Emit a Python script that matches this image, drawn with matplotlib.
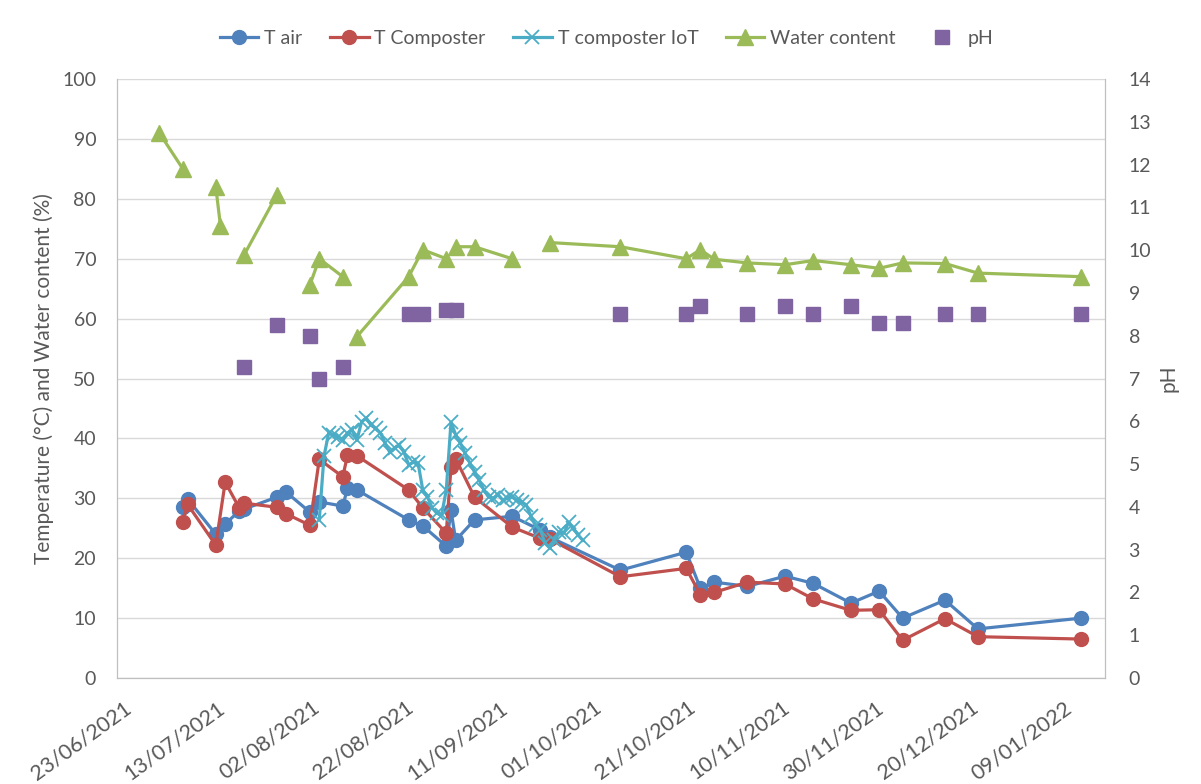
import numpy as np
import pandas as pd
import matplotlib
matplotlib.use("Agg")
import matplotlib.pyplot as plt
import matplotlib.dates as mdates
import matplotlib.transforms as mtransforms

plt.rcParams['font.family'] = ['Lato', 'DejaVu Sans']

# measurement days (T air / T composter)
temp_dates = ["2021-07-07", "2021-07-08", "2021-07-14", "2021-07-16", "2021-07-19", "2021-07-20",
              "2021-07-27", "2021-07-29", "2021-08-03", "2021-08-05", "2021-08-10", "2021-08-11",
              "2021-08-13", "2021-08-24", "2021-08-27", "2021-09-01", "2021-09-02", "2021-09-03",
              "2021-09-07", "2021-09-15", "2021-09-21", "2021-09-23", "2021-10-08", "2021-10-22",
              "2021-10-25", "2021-10-28", "2021-11-04", "2021-11-12", "2021-11-18", "2021-11-26",
              "2021-12-02", "2021-12-07", "2021-12-16", "2021-12-23", "2022-01-14"]
t_air = [28.5, 29.9, 24.0, 25.7, 27.9, 28.2, 30.2, 31.0, 27.7, 29.4, 28.7, 31.7,
         31.4, 26.4, 25.4, 22.0, 28.0, 23.0, 26.4, 27.0, 24.7, 23.5, 18.0, 21.0,
         15.0, 16.0, 15.3, 17.0, 15.8, 12.5, 14.5, 10.0, 13.0, 8.2, 10.0]
t_comp = [26.0, 29.0, 22.2, 32.7, 28.4, 29.2, 28.5, 27.4, 25.5, 36.5, 33.6, 37.2,
          37.1, 31.4, 28.4, 24.2, 35.2, 36.6, 30.2, 25.2, 23.3, 23.2, 16.9, 18.3,
          13.9, 14.3, 16.0, 15.7, 13.2, 11.3, 11.4, 6.3, 9.9, 6.9, 6.5]

# IoT probe, daily readings from 05/08/2021
iot_start = "2021-08-05"
t_iot = [26.4, 37.0, 40.9, 40.6, 40.2, 39.7, 40.9, 41.4, 39.7, 42.8, 43.4, 42.2,
         41.7, 40.9, 39.2, 37.7, 38.4, 38.9, 37.7, 35.6, 36.0, 35.9, 31.4, 30.2,
         28.4, 27.5, 27.2, 31.4, 42.7, 40.6, 39.2, 37.5, 35.9, 34.4, 33.0, 31.4,
         30.2, 30.0, 30.6, 29.7, 30.0, 30.2, 29.7, 29.4, 28.9, 27.0, 25.5, 24.7,
         22.5, 21.7, 23.0, 24.4, 24.2, 26.0, 25.0, 23.9, 23.0]

water_dates = ["2021-07-02", "2021-07-07", "2021-07-14", "2021-07-15", "2021-07-20", "2021-07-27",
               "2021-08-03", "2021-08-05", "2021-08-10", "2021-08-13", "2021-08-24", "2021-08-27",
               "2021-09-01", "2021-09-03", "2021-09-07", "2021-09-15", "2021-09-23", "2021-10-08",
               "2021-10-22", "2021-10-25", "2021-10-28", "2021-11-04", "2021-11-12", "2021-11-18",
               "2021-11-26", "2021-12-02", "2021-12-07", "2021-12-16", "2021-12-23", "2022-01-14"]
water = [91.0, 85.0, 82.0, 75.5, 70.6, 80.7, 65.6, 70.0, 67.0, 57.0, 67.0, 71.5,
         70.0, 72.0, 72.0, 70.0, 72.7, 72.0, 70.0, 71.5, 69.9, 69.3, 69.0, 69.7,
         69.0, 68.4, 69.3, 69.2, 67.6, 67.0]

ph_dates = ["2021-07-20", "2021-07-27", "2021-08-03", "2021-08-05", "2021-08-10", "2021-08-24",
            "2021-08-27", "2021-09-01", "2021-09-03", "2021-10-08", "2021-10-22", "2021-10-25",
            "2021-11-04", "2021-11-12", "2021-11-18", "2021-11-26", "2021-12-02", "2021-12-07",
            "2021-12-16", "2021-12-23", "2022-01-14"]
ph = [7.27, 8.25, 8.0, 7.0, 7.27, 8.5, 8.5, 8.6, 8.6, 8.5, 8.5, 8.7,
      8.5, 8.7, 8.5, 8.7, 8.3, 8.3, 8.5, 8.5, 8.5]

c_air = "#4F81BD"
c_comp = "#C0504D"
c_iot = "#4BACC6"
c_water = "#9BBB59"
c_ph = "#8064A2"
txt = "#595959"

td = pd.to_datetime(temp_dates)
iot_d = pd.date_range(iot_start, periods=len(t_iot), freq="D")
# water content shares the sheet rows with temperatures -> blanks break the line
ws = pd.Series(water, index=pd.to_datetime(water_dates))
all_days = ws.index.union(td)
ws = ws.reindex(all_days)

fig = plt.figure(figsize=(12.01, 7.84), dpi=100)
ax = fig.add_axes([0.0974, 0.1352, 0.8226, 0.764])
ax2 = ax.twinx()

l1, = ax.plot(td, t_air, color=c_air, lw=2.3, marker='o', ms=10, label="T air", zorder=3)
l2, = ax.plot(td, t_comp, color=c_comp, lw=2.3, marker='o', ms=10, label="T Composter", zorder=4)
l3, = ax.plot(iot_d, t_iot, color=c_iot, lw=2.3, marker='x', ms=10, mew=1.3,
              label="T composter IoT", zorder=5)
l4, = ax.plot(ws.index, ws.values, color=c_water, lw=2.3, marker='^', ms=11,
              label="Water content", zorder=3)
l5, = ax2.plot(pd.to_datetime(ph_dates), ph, ls='none', marker='s', ms=10,
               color=c_ph, label="pH")

ax.set_ylim(0, 100)
ax.set_yticks(np.arange(0, 101, 10))
ax2.set_ylim(0, 14)
ax2.set_yticks(np.arange(0, 15, 1))

x0 = pd.Timestamp("2021-06-23")
ax.set_xlim(x0, x0 + pd.Timedelta(days=210))
ax.set_xticks(pd.date_range(x0, periods=11, freq="20D"))
ax.xaxis.set_major_formatter(mdates.DateFormatter("%d/%m/%Y"))

ax.grid(axis='y', color='#D9D9D9', lw=1)
ax.set_axisbelow(True)
for a in (ax, ax2):
    a.tick_params(length=0, labelsize=14, colors=txt)
    a.spines['top'].set_visible(False)
    for s in ('left', 'right', 'bottom'):
        a.spines[s].set_color('#BFBFBF')
ax.tick_params(axis='x', pad=14, labelsize=15.5)
ax.tick_params(axis='y', pad=15)
ax2.tick_params(axis='y', pad=17)
shift = mtransforms.ScaledTranslation(6 / 100, 0, fig.dpi_scale_trans)
for lab in ax.get_xticklabels():
    lab.set_rotation(36)
    lab.set_ha('right')
    lab.set_va('top')
    lab.set_rotation_mode('anchor')
    lab.set_transform(lab.get_transform() + shift)

ax.set_ylabel("Temperature (°C) and Water content (%)", fontsize=15, color=txt, labelpad=6)
ax2.set_ylabel("pH", fontsize=15, color=txt, labelpad=5)

fig.legend(handles=[l1, l2, l3, l4, l5], loc='center', bbox_to_anchor=(0.505, 0.951),
           ncol=5, frameon=False, fontsize=14, labelcolor=txt, handlelength=2.0,
           columnspacing=1.4, handletextpad=0.3)

fig.savefig("out.png", dpi=100)
